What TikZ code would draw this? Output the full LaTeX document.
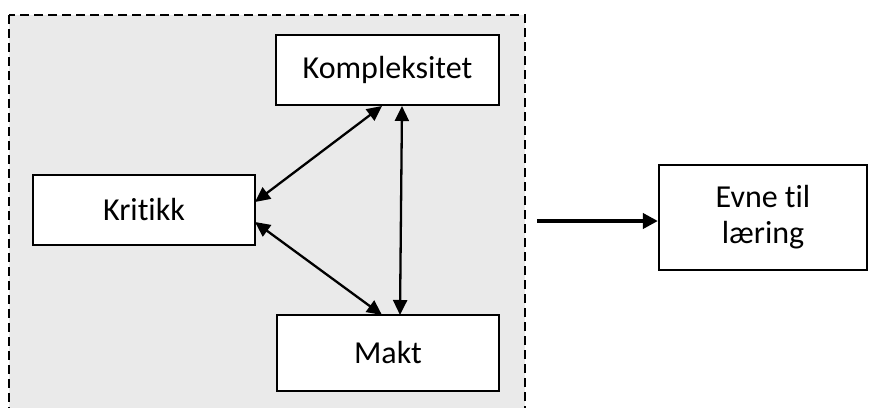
\documentclass[tikz,border=0pt]{standalone}
\usepackage{fontspec}
\setmainfont[Ligatures=NoCommon]{Carlito}
\usetikzlibrary{arrows.meta}
\definecolor{panelgrey}{HTML}{EAEAEA}
\begin{document}
\begin{tikzpicture}[x=1pt,y=-1pt,
  box/.style={draw=black,line width=2.2pt,fill=white,inner sep=0pt,
    font=\fontsize{32}{36}\selectfont,align=center},
  link/.style={line width=2.3pt,{Triangle[length=15pt,width=14pt]}-{Triangle[length=15pt,width=14pt]}},
  lead/.style={line width=3.8pt,-{Triangle[length=15pt,width=15pt]}}]
  \useasboundingbox (0,0) rectangle (872,407);
  % dashed panel holding the three factors
  \draw[fill=panelgrey,dash pattern=on 9pt off 5pt,line width=2pt]
    (9,15) rectangle (525,412);
  % factor boxes
  \node[box,minimum width=223pt,minimum height=70pt] (komp) at (387.5,70) {Kompleksitet};
  \node[box,minimum width=222pt,minimum height=70pt] (krit) at (144,210) {Kritikk};
  \node[box,minimum width=222pt,minimum height=76pt] (makt) at (388,353) {Makt};
  \node[box,minimum width=208pt,minimum height=105pt] (evne) at (763,217.5) {Evne til\\læring};
  % relations between the factors
  \coordinate (kritA) at (255,202);
  \coordinate (kritB) at (255,222);
  \coordinate (kompA) at (382,106);
  \coordinate (kompB) at (402,106);
  \coordinate (maktA) at (382,315);
  \coordinate (maktB) at (400,315);
  \draw[link] (kompA) -- (kritA);
  \draw[link] (kritB) -- (maktA);
  \draw[link] (kompB) -- (maktB);
  % effect on the ability to learn
  \coordinate (src) at (537,221);
  \draw[lead] (src) -- (evne.west |- src);
\end{tikzpicture}
\end{document}
